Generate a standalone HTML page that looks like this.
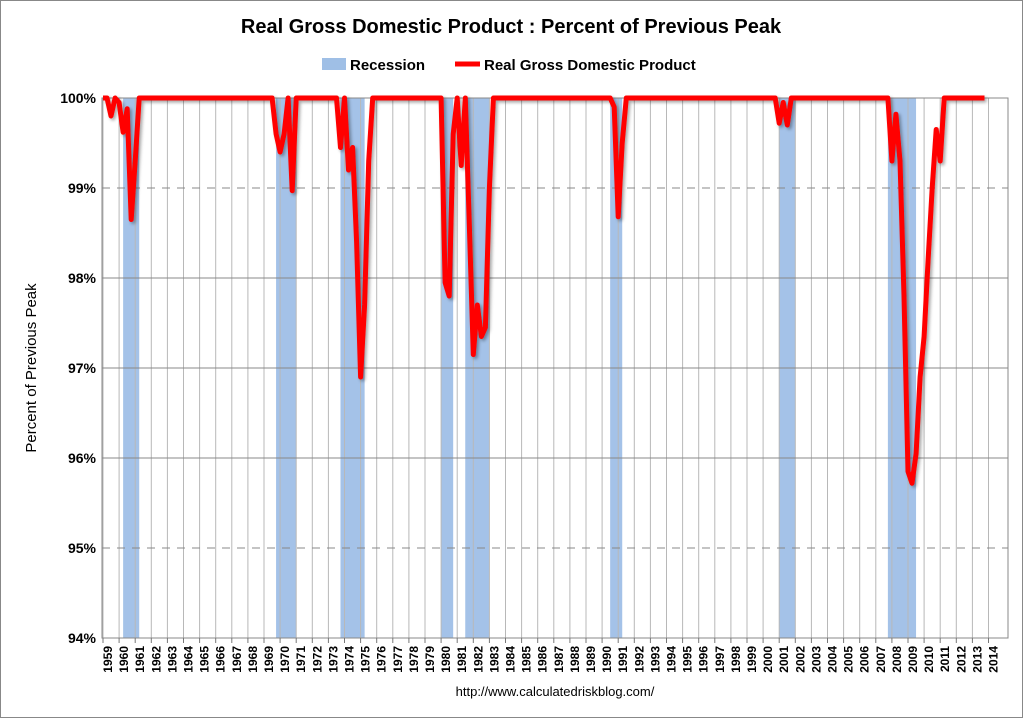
<!DOCTYPE html>
<html><head><meta charset="utf-8"><style>
body{margin:0;background:#fff;}
svg{display:block;font-family:"Liberation Sans",Arial,sans-serif;}
</style></head><body>
<svg id="chart" width="1024" height="719" viewBox="0 0 1024 719">
<defs><filter id="sh" x="-5%" y="-5%" width="110%" height="110%"><feDropShadow dx="2" dy="2" stdDeviation="1.5" flood-color="#000" flood-opacity="0.35"/></filter></defs>
<rect x="0.5" y="0.5" width="1022" height="717" fill="#fff" stroke="#888"/>
<text x="511" y="33" text-anchor="middle" font-size="20" font-weight="bold" fill="#000">Real Gross Domestic Product : Percent of Previous Peak</text>
<g>
<rect x="322" y="58" width="24" height="12" fill="#9fbfe6"/>
<text x="350" y="70" font-size="15" font-weight="bold">Recession</text>
<line x1="455" y1="64" x2="480" y2="64" stroke="#f00" stroke-width="5"/>
<text x="484" y="70" font-size="15" font-weight="bold">Real Gross Domestic Product</text>
</g>
<text transform="translate(36,368) rotate(-90)" text-anchor="middle" font-size="15">Percent of Previous Peak</text>
<g id="recs"></g><g id="grid"></g><g id="ticks"></g><g id="line"></g>
<text x="555" y="696" text-anchor="middle" font-size="13">http://www.calculatedriskblog.com/</text>
</svg>
<script>
const yearLabels=[];for(let y=1959;y<=2014;y++)yearLabels.push(String(y));
const yTicks=[100,99,98,97,96,95,94];
const recessionStarts=[1960.25,1969.75,1973.75,1980.0,1981.5,1990.5,2001.0,2007.75];
const recessionEnds=[1961.25,1971.0,1975.25,1980.75,1983.0,1991.25,2002.0,2009.5];
const gdpDates=[1959.0,1959.25,1959.5,1959.75,1960.0,1960.25,1960.5,1960.75,1961.0,1961.25,
1969.5,1969.75,1970.0,1970.25,1970.5,1970.75,1971.0,
1973.5,1973.75,1974.0,1974.25,1974.5,1974.75,1975.0,1975.25,1975.5,1975.75,
1980.0,1980.25,1980.5,1980.75,1981.0,1981.25,1981.5,1981.75,1982.0,1982.25,1982.5,1982.75,1983.0,1983.25,
1990.5,1990.75,1991.0,1991.25,1991.5,
2000.75,2001.0,2001.25,2001.5,2001.75,
2007.75,2008.0,2008.25,2008.5,2008.75,2009.0,2009.25,2009.5,2009.75,2010.0,2010.25,2010.5,2010.75,2011.0,2011.25,2013.75];
const gdpValues=[100,100,99.8,100,99.95,99.62,99.88,98.65,99.3,100,
100,99.6,99.4,99.6,100,98.97,100,
100,99.45,100,99.2,99.45,98.4,96.9,97.7,99.3,100,
100,97.95,97.8,99.6,100,99.25,100,98.6,97.15,97.7,97.35,97.45,99.0,100,
100,99.9,98.68,99.5,100,
100,99.72,99.95,99.7,100,
100,99.3,99.82,99.3,97.8,95.85,95.72,96.05,96.9,97.35,98.2,99.0,99.65,99.3,100,100];
const L=102,R=1008,T=98,B=638;
const xs=t=>L+1+(t-1959)*16.1;
const ys=v=>T+(100-v)*(B-T)/6;
const NS="http://www.w3.org/2000/svg";
function mk(tag,attrs,parent){const e=document.createElementNS(NS,tag);for(const k in attrs)e.setAttribute(k,attrs[k]);parent.appendChild(e);return e;}
const recs=document.getElementById('recs'),grid=document.getElementById('grid'),ticks=document.getElementById('ticks'),lineG=document.getElementById('line');
recessionStarts.forEach((s,i)=>{const r=mk('rect',{x:xs(s),y:T,width:xs(recessionEnds[i])-xs(s),height:B-T,fill:'#a4c2e8'},recs);

});
yearLabels.forEach((lab,i)=>{const x=xs(1959+i);
const g=mk('line',{x1:x,y1:T,x2:x,y2:B,stroke:'#b8b8b8','stroke-width':1},grid);


mk('line',{x1:x,y1:B,x2:x,y2:B+5,stroke:'#777'},ticks);
const t=mk('text',{transform:`translate(${x+9},${B+8}) rotate(-90)`,'text-anchor':'end','font-size':12,'font-weight':'bold'},ticks);
t.textContent=lab;

});
yTicks.forEach(v=>{const y=ys(v);const dashed=(v===99||v===95);
const g=mk('line',{x1:L,y1:y,x2:R,y2:y,stroke:'#888','stroke-width':1},grid);
if(dashed)g.setAttribute('stroke-dasharray','8,7');


const t=mk('text',{x:L-6,y:y+5,'text-anchor':'end','font-size':14,'font-weight':'bold'},ticks);
t.textContent=v+'%';

});
mk('rect',{x:L,y:T,width:R-L,height:B-T,fill:'none',stroke:'#888'},grid);
const d=gdpDates.map((t,i)=>(i?'L':'M')+xs(t).toFixed(1)+','+ys(gdpValues[i]).toFixed(1)).join(' ');
const p=mk('path',{d:d,fill:'none',stroke:'#f00','stroke-width':5,'stroke-linejoin':'round',filter:'url(#sh)'},lineG);


</script>
</body></html>
